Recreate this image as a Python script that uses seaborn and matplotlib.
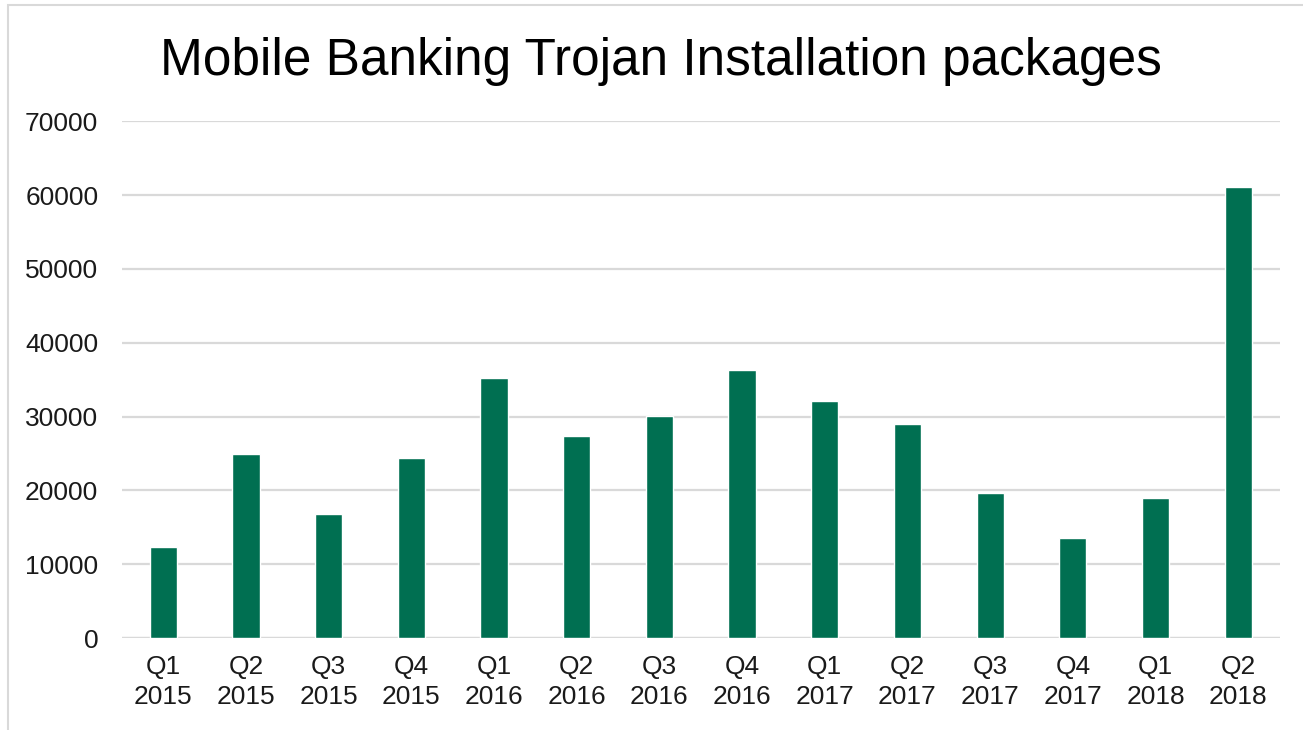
import matplotlib
matplotlib.use("Agg")
import matplotlib.pyplot as plt
import seaborn as sns
import pandas as pd
from matplotlib.patches import Rectangle

quarters = ["Q1", "Q2", "Q3", "Q4", "Q1", "Q2", "Q3", "Q4",
            "Q1", "Q2", "Q3", "Q4", "Q1", "Q2"]
years = ["2015", "2015", "2015", "2015", "2016", "2016", "2016", "2016",
         "2017", "2017", "2017", "2017", "2018", "2018"]
packages = [12300, 24900, 16800, 24400, 35200, 27400, 30100, 36300,
            32100, 29000, 19700, 13600, 19000, 61100]

labels = [f"{q}\n{y}" for q, y in zip(quarters, years)]
df = pd.DataFrame({"period": labels, "packages": packages})

sns.set_theme(style="white")
plt.rcParams["font.family"] = ["Liberation Sans", "DejaVu Sans"]

fig = plt.figure(figsize=(13.03, 7.3), dpi=100)
ax = fig.add_axes([0.0936, 0.126, 0.8884, 0.708])

sns.barplot(data=df, x="period", y="packages", color="#006f51",
            saturation=1, width=0.33, ax=ax, zorder=3)

ax.set_xlim(-0.5, 13.5)
ax.set_ylim(0, 70000)
ax.set_yticks(range(0, 70001, 10000))
ax.yaxis.grid(True, color="#d9d9d9", linewidth=1.6, zorder=0)
ax.set_axisbelow(True)
for s in ax.spines.values():
    s.set_visible(False)
ax.axhline(0, color="#d9d9d9", linewidth=1.6, zorder=1)

ax.set_xlabel("")
ax.set_ylabel("")
ax.tick_params(axis="both", length=0, labelsize=19, colors="#1a1a1a")
ax.tick_params(axis="y", pad=17)
ax.tick_params(axis="x", pad=12)
for t in ax.get_xticklabels():
    t.set_linespacing(1.32)

fig.text(0.507, 0.916, "Mobile Banking Trojan Installation packages",
         ha="center", va="center", fontsize=37, color="#000000")

# light frame around the chart area
fig.patches.append(Rectangle((8 / 1303, -0.05), 1.1, 1 - 5 / 730 + 0.05,
                             transform=fig.transFigure, fill=False,
                             edgecolor="#d9d9d9", linewidth=1.5))

fig.savefig("out.png", dpi=100, facecolor="white")
